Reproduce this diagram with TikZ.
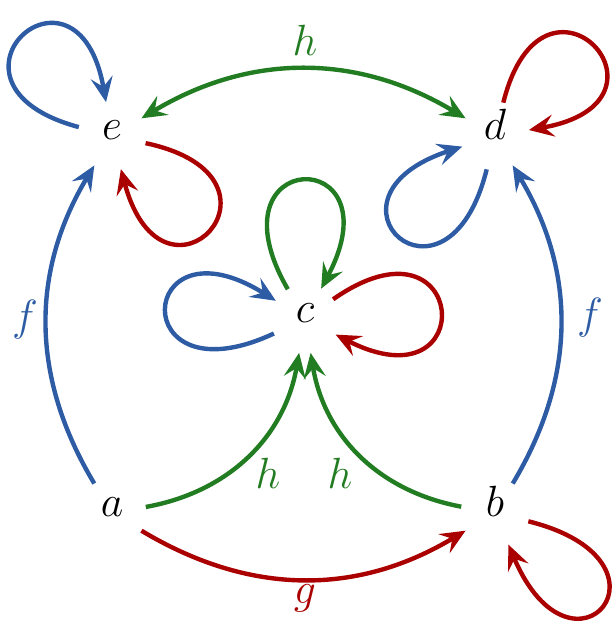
\documentclass[tikz,border=0pt]{standalone}
\usetikzlibrary{arrows.meta}
\definecolor{cblue}{RGB}{46,92,164}
\definecolor{cred}{RGB}{170,0,0}
\definecolor{cgreen}{RGB}{34,125,34}
\tikzset{tipx/.tip={Stealth[length=0.5cm,width=0.44cm,inset=0.19cm]}}
\begin{document}
\begin{tikzpicture}[x=0.02cm,y=0.02cm,
  obj/.style={circle,minimum size=1.36cm,inner sep=0pt,text height=1ex,text depth=0pt,font=\fontsize{28}{32}\selectfont},
  lab/.style={font=\fontsize{28}{32}\selectfont,inner sep=0pt},
  arr/.style={line width=2.5pt,-tipx},
  lp/.style={distance=3.3cm}]
\useasboundingbox (0,0) rectangle (615,632);
\node[obj] (e) at (112,496) {$e$};
\node[obj] (d) at (495,496) {$d$};
\node[obj] (c) at (305,313) {$c$};
\node[obj] (a) at (112,119) {$a$};
\node[obj] (b) at (495,119) {$b$};
% edges
\draw[arr,cblue] (a) to[bend left=31] (e);
\draw[arr,cblue] (b) to[bend right=31] (d);
\draw[arr,cred] (a) to[bend right=31] (b);
\draw[arr,cgreen,tipx-tipx] (e) to[bend left=31] (d);
\draw[arr,cgreen] (a) to[bend right=35] (c);
\draw[arr,cgreen] (b) to[bend left=35] (c);
% loops
\draw[arr,cblue] (e) to[out=165,in=100,lp] (e);
\draw[arr,cred] (e) to[out=-12,in=-75,lp] (e);
\draw[arr,cred] (d) to[out=76,in=10,lp] (d);
\draw[arr,cblue] (d) to[out=-104,in=-162,lp] (d);
\draw[arr,cgreen] (c) to[out=120,in=62,lp] (c);
\draw[arr,cblue] (c) to[out=-155,in=148,lp] (c);
\draw[arr,cred] (c) to[out=35,in=-27,lp] (c);
\draw[arr,cred] (b) to[out=-14,in=-67,lp] (b);
% labels
\node[lab,text=cgreen] (lh1) at (305,592) {$h$};
\node[lab,text=cblue] (lf1) at (25,312) {$f$};
\node[lab,text=cblue] (lf2) at (590,314) {$f$};
\node[lab,text=cred] (lg) at (305,34) {$g$};
\node[lab,text=cgreen] (lh2) at (268,159) {$h$};
\node[lab,text=cgreen] (lh3) at (340,159) {$h$};
\end{tikzpicture}
\end{document}
